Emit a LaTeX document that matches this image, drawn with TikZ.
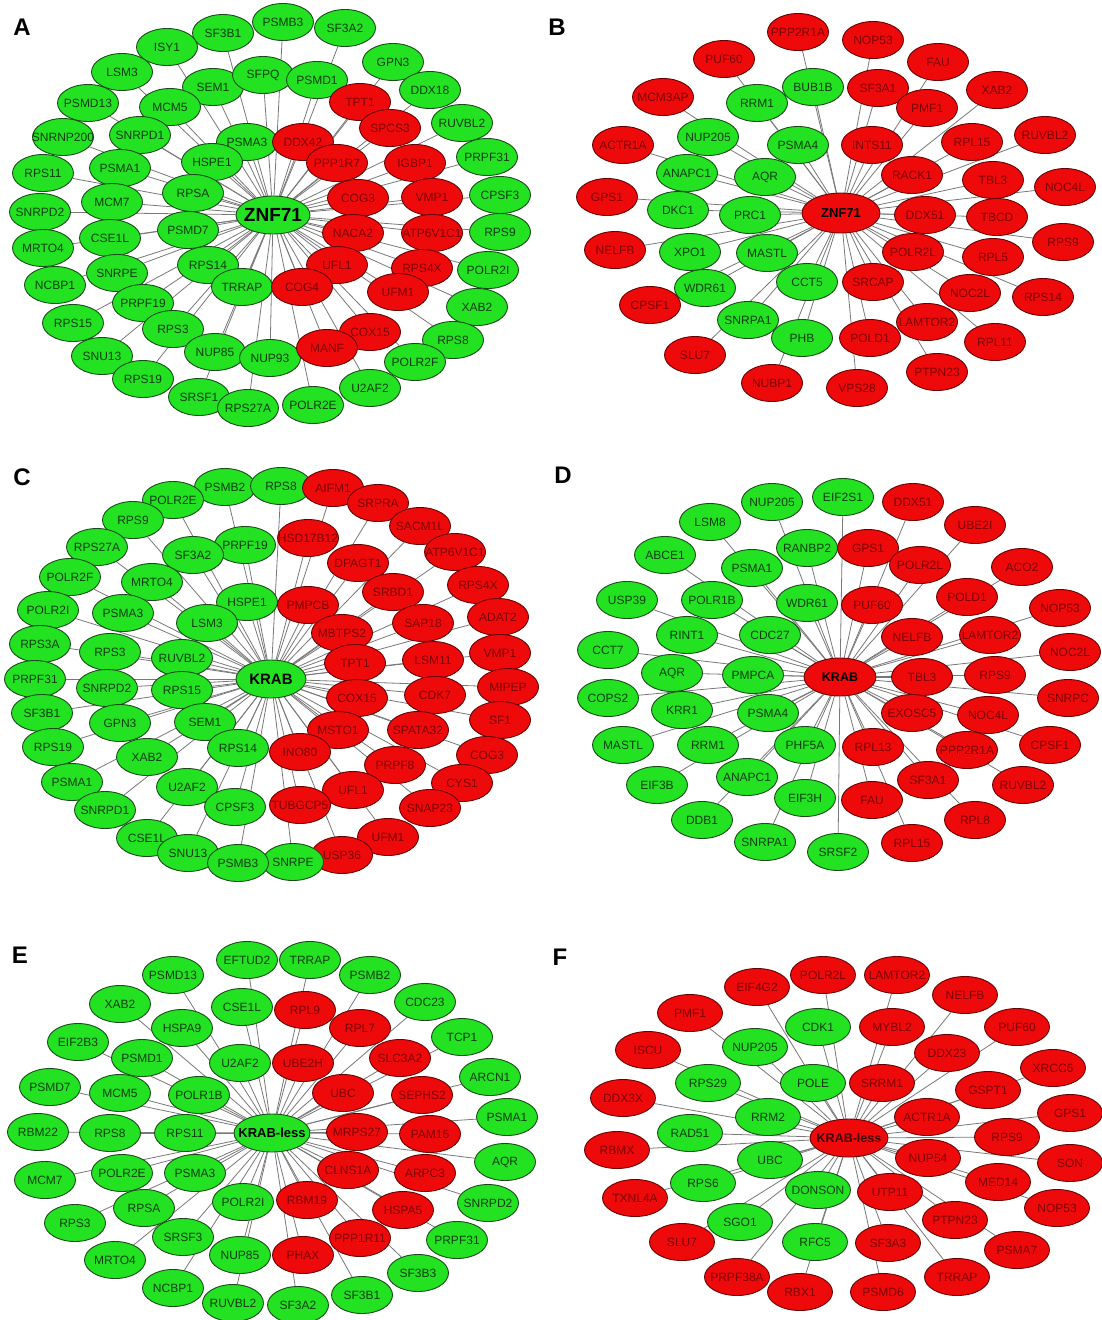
\documentclass[tikz,border=0pt]{standalone}
\usepackage{fontspec}
\setmainfont{Liberation Sans}
\usetikzlibrary{shapes.geometric}
\definecolor{fillg}{RGB}{34,226,34}
\definecolor{fillr}{RGB}{238,10,10}
\definecolor{textg}{RGB}{12,62,12}
\definecolor{textr}{RGB}{125,0,0}
\definecolor{lineg}{RGB}{25,75,25}
\definecolor{liner}{RGB}{105,0,0}
\definecolor{edgegray}{RGB}{120,120,120}
\pgfdeclarelayer{back}
\pgfdeclarelayer{bg}
\pgfsetlayers{back,bg,main}
\tikzset{
  gene/.style={ellipse, minimum width=61, minimum height=37, inner sep=0pt,
    line width=0.9pt, font=\fontsize{12}{12}\selectfont},
  hub/.style={ellipse, minimum width=76, minimum height=38, inner sep=0pt,
    line width=0.9pt, text=black},
  link/.style={draw=edgegray, line width=0.8pt},
  panellabel/.style={font=\fontsize{24}{24}\selectfont\bfseries, text=black, inner sep=0pt}
}
% ring of partner proteins around a hub, each joined to the hub
\newcommand\ringnodes[3][]{%
  \foreach \n/\x/\y/\c in {#3}{%
    \node[gene, fill=fill\c, draw=line\c, text=text\c, #1] (#2-\n) at (\x,\y) {\makebox[0pt]{\n}};
  }
  \begin{pgfonlayer}{bg}
  \foreach \n/\x/\y/\c in {#3}{\draw[link] (#2) -- (#2-\n);}
  \end{pgfonlayer}}
\begin{document}
\begin{tikzpicture}[x=1pt, y=-1pt]
\begin{pgfonlayer}{back}
\fill[white] (0,0) rectangle (1101,1320);
\end{pgfonlayer}
\useasboundingbox (0,0) rectangle (1101,1320);

% ---------- A ----------
\node[panellabel] (labA) at (22,27) {A};
\node[hub, fill=fillg, draw=lineg, minimum width=74, font=\fontsize{19}{20}\selectfont\bfseries] (hubA) at (273,215) {\makebox[0pt]{ZNF71}};
\ringnodes{hubA}{SF3B1/223/33/g,ISY1/167/47/g,PSMB3/283/22/g,SF3A2/345/28/g,GPN3/393/62/g,LSM3/122/72/g,SEM1/213/87/g,SFPQ/263/75/g,PSMD1/317/80/g,DDX18/430/90/g,TPT1/360/102/r,PSMD13/88/103/g,MCM5/170/107/g,RUVBL2/462/123/g,SPCS3/390/128/r,SNRNP200/63/137/g,SNRPD1/140/135/g,PSMA3/247/142/g,DDX42/303/142/r,PRPF31/487/157/g,HSPE1/212/162/g,PPP1R7/337/163/r,IGBP1/415/163/r,PSMA1/120/168/g,RPS11/43/173/g,RPSA/193/193/g,CPSF3/500/195/g,COG3/358/198/r,VMP1/432/197/r,MCM7/112/202/g,SNRPD2/40/212/g,PSMD7/188/230/g,NACA2/353/233/r,ATP6V1C1/432/233/r,RPS9/500/232/g,CSE1L/110/238/g,MRTO4/43/248/g,RPS14/208/265/g,UFL1/337/265/r,RPS4X/422/268/r,POLR2I/488/270/g,SNRPE/117/273/g,NCBP1/55/285/g,TRRAP/242/287/g,COG4/302/287/r,UFM1/398/292/r,PRPF19/143/303/g,XAB2/477/307/g,RPS15/73/323/g,RPS3/173/329/g,COX15/370/332/r,RPS8/453/340/g,NUP85/215/352/g,NUP93/270/358/g,MANF/327/348/r,SNU13/102/356/g,POLR2F/415/362/g,RPS19/143/379/g,U2AF2/370/388/g,SRSF1/199/397/g,POLR2E/313/405/g,RPS27A/248/408/g}

% ---------- B ----------
\node[panellabel] (labB) at (557,27) {B};
\node[hub, fill=fillr, draw=liner, minimum width=78, minimum height=40, font=\fontsize{13}{14}\selectfont\bfseries] (hubB) at (841,213) {\makebox[0pt]{ZNF71}};
\ringnodes{hubB}{PPP2R1A/798/32/r,NOP53/873/40/r,PUF60/724/59/r,FAU/938/62/r,BUB1B/813/87/g,SF3A1/878/88/r,XAB2/997/90/r,MCM3AP/663/97/r,RRM1/757/103/g,PMF1/927/108/r,RUVBL2/1045/135/r,NUP205/708/137/g,RPL15/972/142/r,PSMA4/798/145/g,ACTR1A/623/145/r,INTS11/872/145/r,ANAPC1/687/173/g,RACK1/912/175/r,AQR/765/177/g,TBL3/993/180/r,NOC4L/1065/187/r,GPS1/607/197/r,DKC1/678/210/g,PRC1/750/215/g,DDX51/925/215/r,TBCD/997/217/r,RPS9/1063/242/r,NELFB/615/250/r,XPO1/690/252/g,MASTL/767/253/g,POLR2L/913/252/r,RPL5/993/257/r,WDR61/705/288/g,CCT5/807/282/g,SRCAP/873/282/r,NOC2L/970/293/r,RPS14/1043/297/r,CPSF1/650/305/r,SNRPA1/748/320/g,LAMTOR2/927/322/r,PHB/802/338/g,POLD1/870/338/r,RPL11/995/342/r,SLU7/695/355/r,PTPN23/937/372/r,NUBP1/772/383/r,VPS28/857/388/r}

% ---------- C ----------
\node[panellabel] (labC) at (22,477) {C};
\node[hub, fill=fillg, draw=lineg, minimum width=70, font=\fontsize{15}{16}\selectfont\bfseries] (hubC) at (271,679) {\makebox[0pt]{KRAB}};
\ringnodes{hubC}{PSMB2/225/487/g,RPS8/281/486/g,AIFM1/333/488/r,POLR2E/173/500/g,SRPRA/378/503/r,RPS9/133/520/g,SACM1L/420/526/r,HSD17B12/308/538/r,PRPF19/245/545/g,RPS27A/97/547/g,ATP6V1C1/455/552/r,SF3A2/193/555/g,DPAGT1/358/563/r,POLR2F/70/577/g,MRTO4/152/582/g,RPS4X/478/585/r,SRBD1/393/592/r,HSPE1/247/602/g,PMPCB/308/605/r,POLR2I/48/610/g,PSMA3/123/613/g,ADAT2/498/617/r,LSM3/207/623/g,SAP18/423/623/r,MBTPS2/342/633/r,RPS3A/40/644/g,RPS3/110/652/g,VMP1/500/653/r,RUVBL2/182/658/g,LSM11/433/660/r,TPT1/355/663/r,PRPF31/35/679/g,MIPEP/508/687/r,SNRPD2/107/688/g,RPS15/182/690/g,CDK7/435/695/r,COX15/357/698/r,SF3B1/42/713/g,SF1/500/720/r,SEM1/205/722/g,GPN3/120/723/g,MSTO1/338/730/r,SPATA32/418/730/r,RPS19/53/747/g,RPS14/238/748/g,INO80/300/752/r,COG3/487/755/r,XAB2/147/757/g,PRPF8/395/765/r,PSMA1/72/782/g,CYS1/462/783/r,U2AF2/187/787/g,UFL1/353/790/r,TUBGCP5/300/805/r,CPSF3/235/807/g,SNAP23/430/808/r,SNRPD1/105/810/g,UFM1/388/837/r,CSE1L/147/838/g,SNU13/188/853/g,USP36/342/855/r,SNRPE/293/862/g,PSMB3/238/863/g}

% ---------- D ----------
\node[panellabel] (labD) at (563,475) {D};
\node[hub, fill=fillr, draw=liner, minimum width=72, font=\fontsize{12.5}{13}\selectfont\bfseries] (hubD) at (840,677) {\makebox[0pt]{KRAB}};
\ringnodes{hubD}{NUP205/772/502/g,EIF2S1/843/497/g,DDX51/913/502/r,LSM8/710/522/g,UBE2I/975/525/r,RANBP2/807/548/g,GPS1/868/548/r,ABCE1/665/555/g,POLR2L/920/565/r,ACO2/1022/567/r,PSMA1/752/568/g,POLD1/967/597/r,USP39/627/600/g,POLR1B/712/600/g,WDR61/807/603/g,PUF60/872/605/r,NOP53/1060/608/r,RINT1/687/635/g,CDC27/770/635/g,LAMTOR2/990/635/r,NELFB/912/637/r,CCT7/608/650/g,NOC2L/1070/652/r,AQR/672/673/g,PMPCA/753/675/g,RPS9/995/675/r,TBL3/922/677/r,COPS2/608/698/g,SNRPC/1068/698/r,KRR1/682/710/g,PSMA4/768/713/g,EXOSC5/912/713/r,NOC4L/988/715/r,MASTL/623/745/g,RRM1/708/745/g,PHF5A/805/745/g,CPSF1/1050/745/r,RPL13/873/747/r,PPP2R1A/967/750/r,ANAPC1/747/777/g,SF3A1/928/780/r,EIF3B/657/785/g,RUVBL2/1023/785/r,EIF3H/805/798/g,FAU/872/800/r,DDB1/702/820/g,RPL8/975/820/r,SNRPA1/765/842/g,RPL15/912/843/r,SRSF2/838/852/g}

% ---------- E ----------
\node[panellabel] (labE) at (20,955) {E};
\node[hub, fill=fillg, draw=lineg, font=\fontsize{13}{14}\selectfont\bfseries] (hubE) at (272,1133) {\makebox[0pt]{KRAB-less}};
\ringnodes{hubE}{EFTUD2/247/960/g,TRRAP/310/960/g,PSMD13/173/975/g,PSMB2/370/975/g,CDC23/425/1002/g,XAB2/120/1004/g,CSE1L/242/1007/g,RPL9/305/1010/r,HSPA9/182/1028/g,RPL7/360/1028/r,TCP1/462/1037/g,EIF2B3/78/1042/g,PSMD1/142/1058/g,SLC3A2/400/1058/r,U2AF2/240/1063/g,UBE2H/303/1063/r,ARCN1/490/1077/g,PSMD7/50/1087/g,MCM5/120/1093/g,POLR1B/199/1095/g,UBC/343/1093/r,SEPHS2/422/1095/r,PSMA1/507/1117/g,RBM22/38/1132/g,RPS8/110/1133/g,RPS11/185/1133/g,MRPS27/357/1132/r,PAM16/430/1134/r,AQR/505/1162/g,CLNS1A/348/1170/r,MCM7/45/1180/g,POLR2E/122/1173/g,PSMA3/195/1173/g,ARPC3/425/1173/r,RBM19/307/1200/r,POLR2I/243/1202/g,SNRPD2/488/1203/g,RPSA/144/1208/g,HSPA5/403/1210/r,RPS3/75/1223/g,SRSF3/183/1237/g,PPP1R11/360/1238/r,PRPF31/457/1240/g,NUP85/240/1255/g,PHAX/303/1255/r,MRTO4/115/1260/g,SF3B3/418/1273/g,NCBP1/173/1288/g,SF3B1/362/1295/g,RUVBL2/233/1303/g,SF3A2/298/1305/g}

% ---------- F ----------
\node[panellabel] (labF) at (560,957) {F};
\node[hub, fill=fillr, draw=liner, minimum width=78, font=\fontsize{12.5}{13}\selectfont\bfseries, text={rgb,255:red,60;green,0;blue,0}] (hubF) at (849,1138) {\makebox[0pt]{KRAB-less}};
\ringnodes[minimum width=65]{hubF}{POLR2L/823/975/r,LAMTOR2/897/975/r,EIF4G2/757/987/r,NELFB/965/995/r,PMF1/690/1013/r,CDK1/818/1027/g,MYBL2/892/1027/r,PUF60/1017/1027/r,NUP205/755/1047/g,ISCU/648/1050/r,DDX23/947/1053/r,XRCC6/1053/1068/r,POLE/813/1083/g,RPS29/708/1083/g,SRRM1/882/1083/r,GSPT1/988/1090/r,DDX3X/623/1098/r,GPS1/1070/1113/r,RRM2/768/1117/g,ACTR1A/927/1117/r,RAD51/690/1133/g,RPS9/1007/1137/r,RBMX/617/1150/r,NUP54/928/1158/r,UBC/770/1160/g,SON/1070/1163/r,MED14/998/1182/r,RPS6/703/1183/g,DONSON/818/1190/g,UTP11/890/1192/r,TXNL4A/635/1198/r,NOP53/1057/1208/r,PTPN23/955/1220/r,SGO1/740/1222/g,SLU7/682/1242/r,RFC5/815/1242/g,SF3A3/888/1243/r,PSMA7/1017/1250/r,PRPF38A/737/1277/r,TRRAP/957/1277/r,RBX1/800/1292/r,PSMD6/883/1292/r}
\end{tikzpicture}
\end{document}
